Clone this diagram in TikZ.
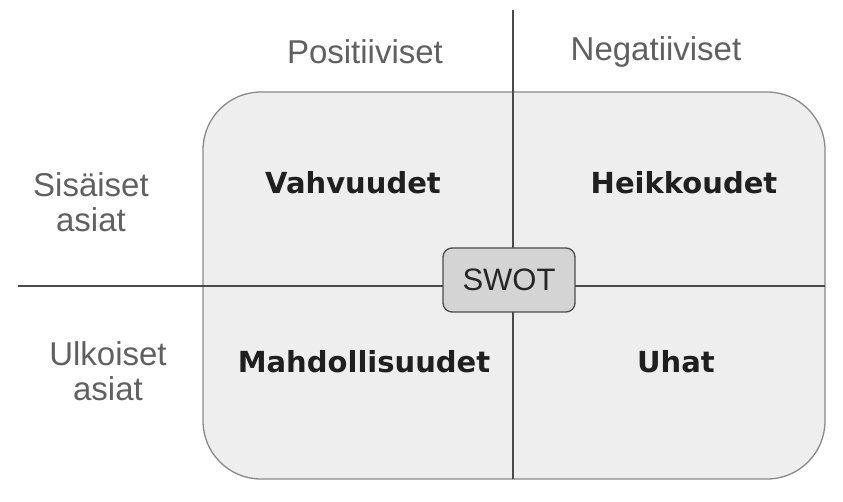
\documentclass[tikz,border=0pt]{standalone}
\usepackage{fontspec}
\setmainfont{Liberation Sans}
\newfontfamily\boldfam{DejaVu Sans}
\definecolor{labgray}{HTML}{606060}
\definecolor{boxfill}{HTML}{EEEEEE}
\definecolor{boxline}{HTML}{8A8A8A}
\definecolor{axisline}{HTML}{4A4A4A}
\definecolor{swotfill}{HTML}{D4D4D4}
\tikzset{
  sidelabel/.style={text=labgray, font=\fontsize{33}{35}\selectfont, align=center, inner sep=0pt},
  quadlabel/.style={text=black!88, font=\boldfam\bfseries\fontsize{29}{32}\selectfont, inner sep=0pt},
  axis/.style={draw=axisline, line width=1.3pt},
  swotbox/.style={draw=black!70, fill=swotfill, rounded corners=9pt, line width=1.3pt, minimum width=132pt, minimum height=64pt, font=\fontsize{31}{33}\selectfont, text=black!85}
}
\begin{document}
\begin{tikzpicture}[x=1pt,y=-1pt]
\useasboundingbox[fill=white] (0,0) rectangle (843,502);
\draw[draw=boxline, fill=boxfill, line width=1.3pt, rounded corners=58pt] (203,92) rectangle (825,479);
\coordinate (vt) at (513,10);
\coordinate (vb) at (513,479);
\coordinate (hl) at (18,286);
\coordinate (hr) at (825,286);
\draw[axis] (vt) -- (vb);
\draw[axis] (hl) -- (hr);
\node[swotbox] (swot) at (509,280) {SWOT};
\node[sidelabel] (pos) at (365,52) {Positiiviset};
\node[sidelabel] (neg) at (656,52) {Negatiiviset};
\node[sidelabel] (sis) at (91,202) {Sisäiset\\asiat};
\node[sidelabel] (ulk) at (108,371) {Ulkoiset\\asiat};
\node[quadlabel] (s) at (353,183) {Vahvuudet};
\node[quadlabel] (w) at (684,183) {Heikkoudet};
\node[quadlabel] (o) at (364,362) {Mahdollisuudet};
\node[quadlabel] (t) at (676,362) {Uhat};
\end{tikzpicture}
\end{document}
